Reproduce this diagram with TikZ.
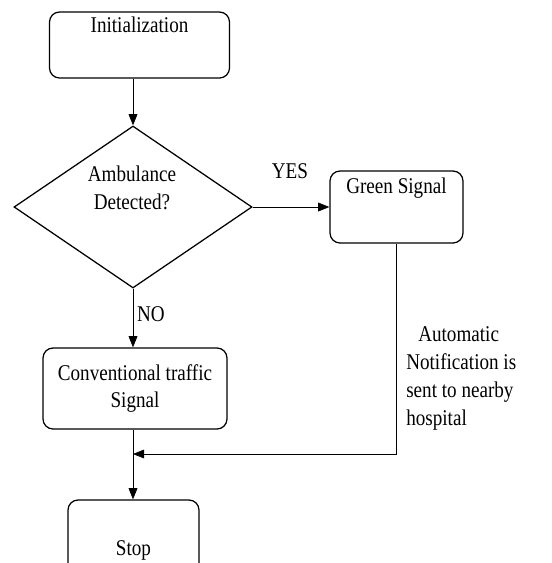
\documentclass[tikz,border=0pt]{standalone}
\usepackage{fontspec}
\setmainfont{Liberation Serif}[FakeStretch=0.85]
\usetikzlibrary{shapes.geometric,arrows.meta}

\begin{document}
\begin{tikzpicture}[>={Triangle[length=0.28cm,width=0.22cm]}, every node/.style={font=\fontsize{16}{19.9}\selectfont},
  box/.style={draw, rounded corners=0.25cm, line width=0.9pt, align=center, inner sep=0.1cm},
  link/.style={->, line width=0.5pt}]
\useasboundingbox (0,0) rectangle (13.8,-14.075);
\clip (0,0) rectangle (13.8,-14.075);
\node[box, minimum width=4.5cm, minimum height=1.65cm, text height=0.4cm, text depth=1.05cm] (init) at (3.4875,-1.125) {Initialization};
\node[draw, diamond, line width=0.9pt, minimum width=5.95cm, minimum height=4.05cm, inner sep=0pt] (dec) at (3.325,-5.175) {};
\node[align=center, inner sep=0pt] (decq) at (3.3,-4.7) {Ambulance\\Detected?};
\node[box, minimum width=3.325cm, minimum height=1.8cm, text height=0.45cm, text depth=1.15cm] (green) at (9.9125,-5.175) {Green Signal};
\node[box, minimum width=4.6cm, minimum height=2.025cm] (conv) at (3.375,-9.7125) {Conventional traffic\\Signal};
\node[box, minimum width=3.275cm, minimum height=2.5cm] (stop) at (3.3375,-13.75) {Stop};
\node[inner sep=0pt] (yes) at (7.25,-4.275) {YES};
\node[inner sep=0pt] (no) at (3.775,-7.85) {NO};
\node[align=left, anchor=north west, inner sep=0pt] (note) at (10.15,-8.15) {\hspace*{0.3cm}Automatic\\Notification is\\sent to nearby\\hospital};
\coordinate (join) at (3.325,-11.35);
\draw[link] (init.south -| dec.north) -- (dec.north);
\draw[link] (dec.east) -- (green.west);
\draw[link] (dec.south) -- (conv.north -| dec.south);
\draw[link] (conv.south -| dec.south) -- (stop.north -| dec.south);
\draw[link] (green.south) |- (join);
\end{tikzpicture}
\end{document}
